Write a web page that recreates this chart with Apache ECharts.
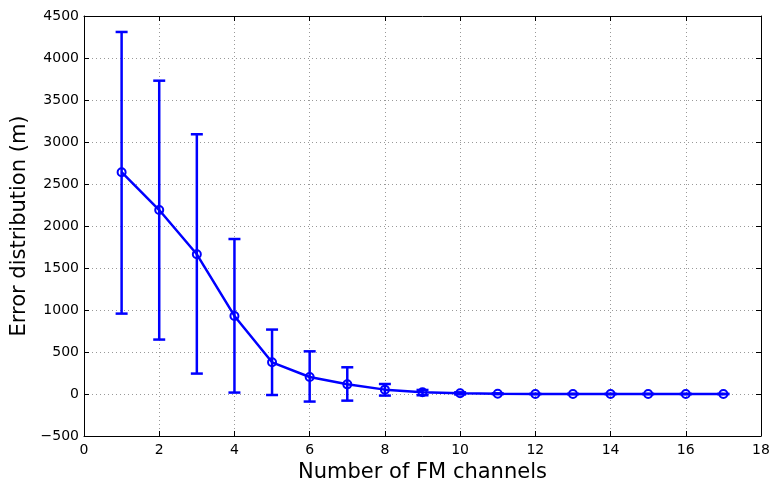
<!DOCTYPE html>
<html><head><meta charset="utf-8">
<script src="https://cdn.jsdelivr.net/npm/echarts@6/dist/echarts.min.js"></script>
<style>html,body{margin:0;padding:0;background:#fff}#c{width:771px;height:481px}</style>
</head><body><div id="c"></div>
<script>
const channels = [1,2,3,4,5,6,7,8,9,10,11,12,13,14,15,16,17];
const meanErr  = [2640,2190,1663,929,377,202,115,52,20,8,3,0,0,0,0,0,0];
const upperErr = [4310,3730,3092,1845,767,508,318,119,48,20,8,1,1,1,1,1,1];
const lowerErr = [957,648,243,17,-12,-90,-79,-19,-15,-5,-2,-1,-1,-1,-1,-1,-1];
const xTicks = [0,2,4,6,8,10,12,14,16,18];
const yTicks = [-500,0,500,1000,1500,2000,2500,3000,3500,4000,4500];

const chart = echarts.init(document.getElementById('c'));
const font = 'DejaVu Sans, Liberation Sans, sans-serif';
const blue = '#0000ff';
const errData = channels.map((c,i)=>[c, lowerErr[i], upperErr[i]]);
const lineData = channels.map((c,i)=>[c, meanErr[i]]);
const axisCommon = {
  axisLine:{show:true, onZero:false, lineStyle:{color:'#000', width:1}},
  axisTick:{show:true, inside:true, length:5, lineStyle:{color:'#000'}},
  axisLabel:{color:'#000', fontSize:14, fontFamily:font},
};
chart.setOption({
  animation:false,
  backgroundColor:'#fff',
  grid:{left:84, right:10, top:16, bottom:45, containLabel:false, outerBoundsMode:'none'},
  xAxis:[{
    type:'value', min:xTicks[0], max:xTicks[xTicks.length-1], interval:2,
    name:'Number of FM channels', nameLocation:'middle', nameGap:22,
    nameTextStyle:{color:'#000', fontSize:21, fontFamily:font},
    ...axisCommon,
    axisLabel:{...axisCommon.axisLabel, margin:7},
    splitLine:{show:true, lineStyle:{color:'#999', type:[1,3], width:1}}
  },{
    type:'value', position:'top', min:0, max:18, interval:2,
    axisLine:{show:true, onZero:false, lineStyle:{color:'#000'}},
    axisTick:{show:true, inside:true, length:5, lineStyle:{color:'#000'}},
    axisLabel:{show:false}, splitLine:{show:false}
  }],
  yAxis:[{
    type:'value', min:yTicks[0], max:yTicks[yTicks.length-1], interval:500,
    name:'Error distribution (m)', nameLocation:'middle', nameGap:54,
    nameTextStyle:{color:'#000', fontSize:21, fontFamily:font},
    ...axisCommon,
    axisLabel:{...axisCommon.axisLabel, margin:5, formatter:v=> v<0 ? '\u2212'+Math.abs(v) : String(v)},
    splitLine:{show:true, lineStyle:{color:'#999', type:[1,3], width:1}}
  },{
    type:'value', position:'right', min:-500, max:4500, interval:500,
    axisLine:{show:true, onZero:false, lineStyle:{color:'#000'}},
    axisTick:{show:true, inside:true, length:5, lineStyle:{color:'#000'}},
    axisLabel:{show:false}, splitLine:{show:false}
  }],
  series:[{
    type:'custom',
    data:errData,
    z:3,
    renderItem:function(params, api){
      const x = api.value(0);
      const lo = api.coord([x, api.value(1)]);
      const hi = api.coord([x, api.value(2)]);
      const hw = 6;
      const style = {stroke:blue, lineWidth:2.5, fill:null};
      return {type:'group', children:[
        {type:'line', shape:{x1:lo[0], y1:lo[1], x2:hi[0], y2:hi[1]}, style},
        {type:'line', shape:{x1:lo[0]-hw, y1:lo[1], x2:lo[0]+hw, y2:lo[1]}, style},
        {type:'line', shape:{x1:hi[0]-hw, y1:hi[1], x2:hi[0]+hw, y2:hi[1]}, style}
      ]};
    }
  },{
    type:'line',
    data:lineData,
    z:4,
    symbol:'circle', symbolSize:8, showSymbol:true,
    lineStyle:{color:blue, width:2.5},
    itemStyle:{color:'rgba(255,255,255,0)', borderColor:blue, borderWidth:2},
    emphasis:{disabled:true}
  }]
});
</script></body></html>
